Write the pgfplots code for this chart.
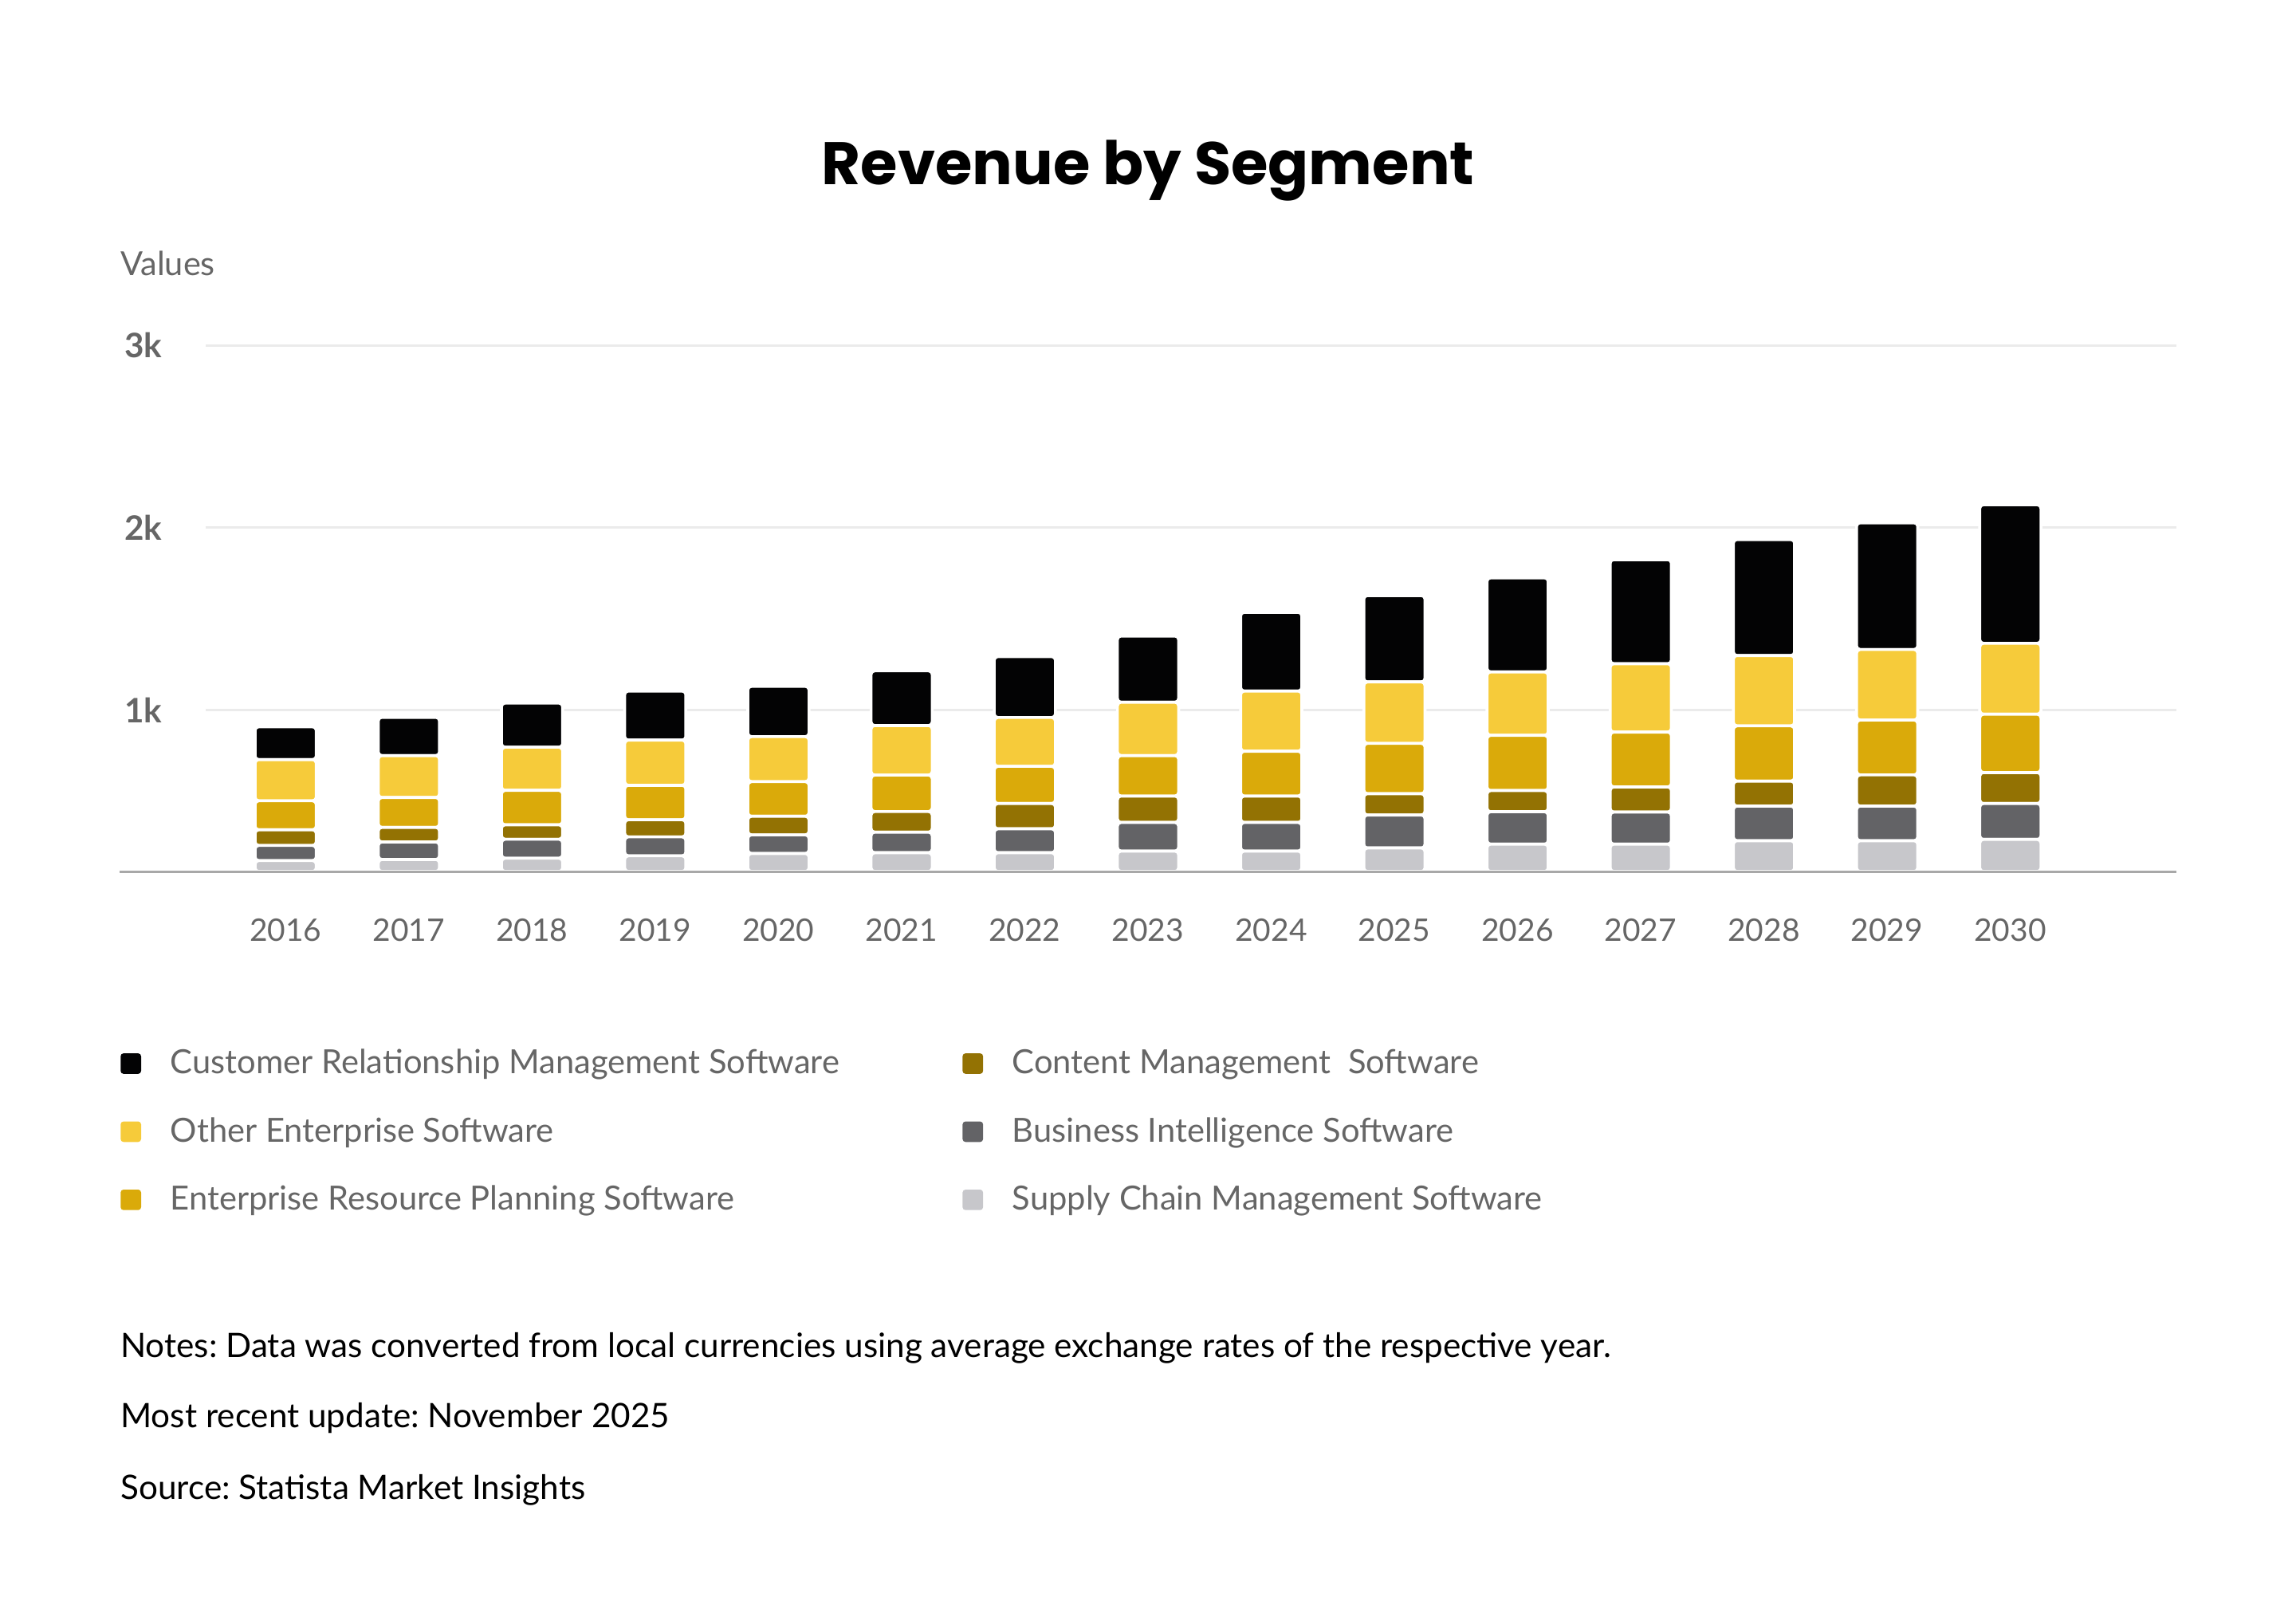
\documentclass[border=0pt]{standalone}
\usepackage{fontspec}
\setmainfont{Lato}
\newfontfamily\titlefont{Poppins}
\usepackage{pgfplots}
\usepackage{pgfplotstable}
\pgfplotsset{compat=1.18}
\frenchspacing

\definecolor{crm}{HTML}{030304}
\definecolor{oth}{HTML}{F6CB3A}
\definecolor{erp}{HTML}{DAAA0A}
\definecolor{cms}{HTML}{937203}
\definecolor{bis}{HTML}{636366}
\definecolor{scm}{HTML}{C7C7CB}
\definecolor{txt}{HTML}{666666}
\definecolor{gridc}{HTML}{EBEBEB}
\definecolor{basec}{HTML}{A8A8A8}

% revenue per segment, stacked bottom to top
\pgfplotstableread{
year scm bis cms erp oth crm
2016 174  83  86 159 226 180
2017 180  96  80 164 230 210
2018 187 104  79 189 237 242
2019 200 104  94 189 248 269
2020 213 102 102 190 247 276
2021 217 113 113 200 272 300
2022 217 131 139 204 268 334
2023 226 157 145 222 293 363
2024 226 157 145 246 330 432
2025 243 181 117 276 337 474
2026 264 178 116 303 348 516
2027 264 176 138 301 375 571
2028 283 190 137 303 386 636
2029 283 190 171 301 387 695
2030 290 197 170 320 389 760
}\revdata

\newcommand\ls{\rule[-2.6pt]{0pt}{10.6pt}}

\begin{document}
\begin{tikzpicture}
\path[use as bounding box] (0pt,0pt) rectangle (784pt,-546.5pt);

\node[anchor=base, font=\titlefont\fontsize{20.5}{24}\selectfont\bfseries] at (392pt,-62.9pt) {Revenue by Segment};
\node[anchor=west, inner sep=0pt, text=txt, font=\fontsize{11.3}{13}\selectfont] at (41pt,-90pt) {Values};

\begin{axis}[
    at={(70.25pt,-297.55pt)}, anchor=south west,
    scale only axis, width=672.95pt, height=179.6pt,
    xmin=2015.351, xmax=2031.349, ymin=114, ymax=3000,
    ybar stacked, bar width=20.9pt,
    axis line style={draw=none},
    major tick length=0pt,
    ymajorgrids, grid style={gridc, line width=0.8pt},
    ytick={1000,2000,3000}, yticklabels={1k,2k,3k},
    yticklabel style={anchor=east, inner sep=0pt, xshift=-14.75pt, text=txt,
        font=\fontsize{11.5}{13}\selectfont\bfseries},
    xtick={2016,2017,...,2030},
    xticklabel style={anchor=center, inner sep=0pt, yshift=-19.95pt, text=txt,
        font=\fontsize{10.6}{13}\selectfont,
        /pgf/number format/1000 sep={}, /pgf/number format/assume math mode=true},
    legend image code/.code={
        \fill[#1, draw=none, rounded corners=1pt] (0pt,-3.5pt) rectangle (7pt,3.5pt);
        \path[draw=none, fill=none] (0pt,0pt) -- (17pt,0pt);},
    legend columns=3, transpose legend,
    legend cell align=left,
    legend style={at={(-0.04348,-0.3366)}, anchor=north west, draw=none, fill=none,
        inner sep=0pt, column sep=0pt, row sep=13.4pt, text=txt,
        font=\fontsize{11.35}{13}\selectfont,
        nodes={inner sep=0pt}},
]
\addlegendimage{fill=crm}
\addlegendentry{\makebox[270.5pt][l]{\ls Customer Relationship Management Software}}
\addlegendimage{fill=oth}
\addlegendentry{\makebox[270.5pt][l]{\ls Other Enterprise Software}}
\addlegendimage{fill=erp}
\addlegendentry{\makebox[270.5pt][l]{\ls Enterprise Resource Planning Software}}
\addlegendimage{fill=cms}
\addlegendentry{\ls Content Management\ \ Software}
\addlegendimage{fill=bis}
\addlegendentry{\ls Business Intelligence Software}
\addlegendimage{fill=scm}
\addlegendentry{\ls Supply Chain Management Software}

\addplot[forget plot, fill=scm, draw=white, line width=1pt, rounded corners=1.2pt] table[x=year, y=scm] {\revdata};
\addplot[forget plot, fill=bis, draw=white, line width=1pt, rounded corners=1.2pt] table[x=year, y=bis] {\revdata};
\addplot[forget plot, fill=cms, draw=white, line width=1pt, rounded corners=1.2pt] table[x=year, y=cms] {\revdata};
\addplot[forget plot, fill=erp, draw=white, line width=1pt, rounded corners=1.2pt] table[x=year, y=erp] {\revdata};
\addplot[forget plot, fill=oth, draw=white, line width=1pt, rounded corners=1.2pt] table[x=year, y=oth] {\revdata};
\addplot[forget plot, fill=crm, draw=white, line width=1pt, rounded corners=1.2pt] table[x=year, y=crm] {\revdata};
\end{axis}

\draw[basec, line width=0.8pt] (40.75pt,-297.55pt) -- (743.2pt,-297.55pt);

\begin{scope}[every node/.style={anchor=west, inner sep=0pt, font=\fontsize{11.5}{13}\selectfont}]
\node at (41pt,-460.3pt) {Notes: Data was converted from local currencies using average exchange rates of the respective year.};
\node at (41pt,-484.2pt) {Most recent update: November 2025};
\node at (41pt,-508.7pt) {Source: Statista Market Insights};
\end{scope}
\end{tikzpicture}
\end{document}
